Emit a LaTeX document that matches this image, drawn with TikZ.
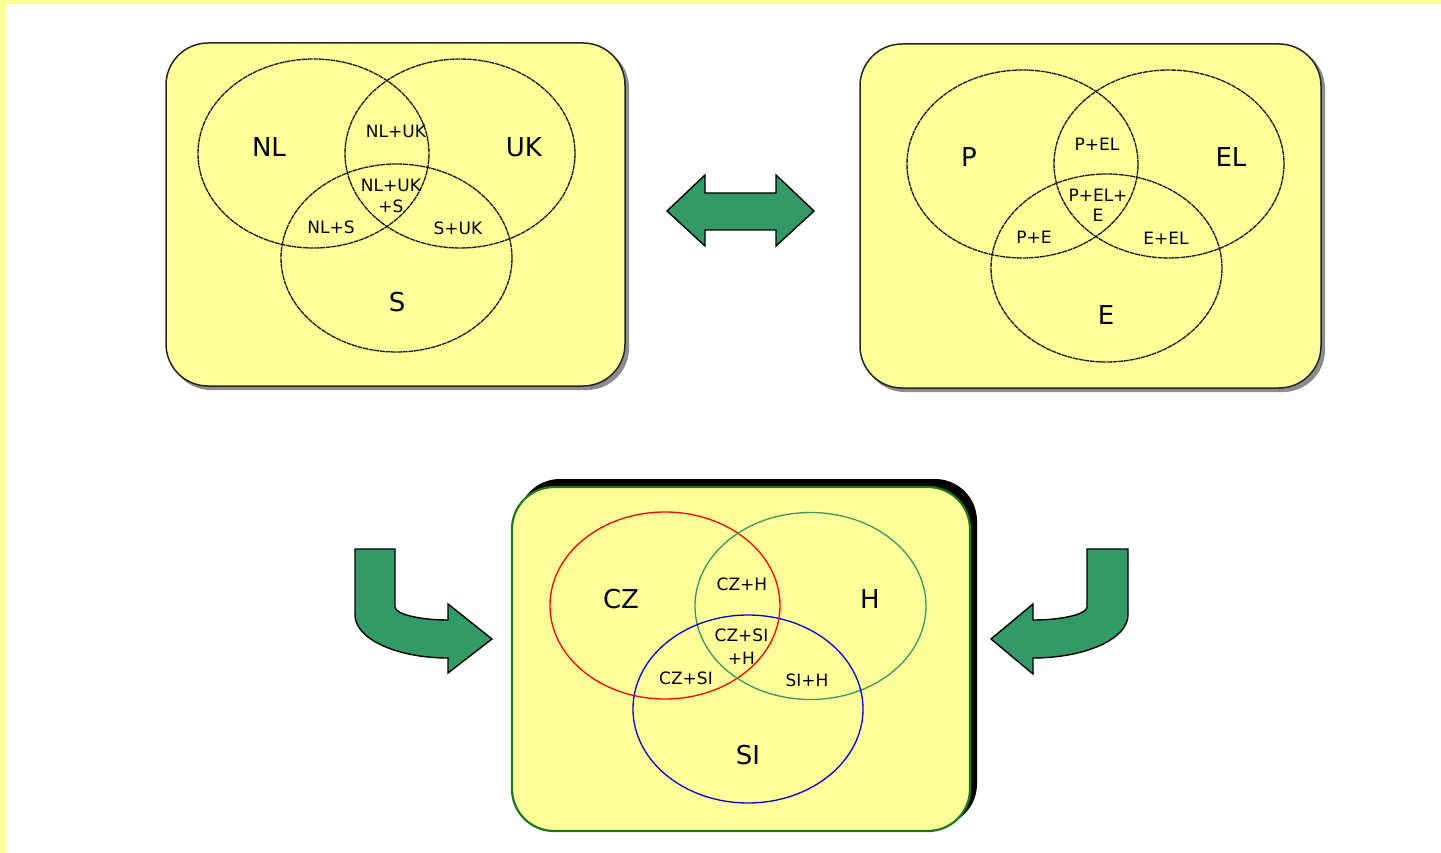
\documentclass[tikz,border=0pt]{standalone}
\usepackage{fontspec}
\setmainfont{DejaVu Sans}
\definecolor{pale}{HTML}{FFFF99}
\definecolor{arrowgreen}{HTML}{339966}
\definecolor{boxgreen}{RGB}{30,120,30}
\definecolor{hgreen}{RGB}{60,150,100}
\definecolor{vennline}{RGB}{30,30,30}
\tikzset{
  panel/.style={fill=pale, draw=black!85, line width=1.5pt, rounded corners=42pt},
  panelshadow/.style={fill=black!45, rounded corners=42pt},
  venn/.style={draw=vennline, line width=1.35pt, dash pattern=on 5pt off 0.7pt},
  big/.style={font=\fontsize{26}{30}\selectfont, inner sep=0pt},
  small/.style={font=\fontsize{17}{20}\selectfont, inner sep=0pt, align=center},
  blockarrow/.style={fill=arrowgreen, draw=black, line width=1.4pt, line join=miter}
}
\begin{document}
\begin{tikzpicture}[x=1pt,y=-1pt]
\useasboundingbox (0,0) rectangle (1441,853);
\fill[white] (0,0) rectangle (1441,853);
\fill[pale] (0,0) rectangle (1441,4);
\fill[pale] (0,0) rectangle (6,853);

% ---------- top-left panel ----------
\fill[panelshadow] (169,46) rectangle (629,390);
\draw[panel] (166,43) rectangle (625,386);
\draw[venn] (313.5,153.5) ellipse [x radius=115.5, y radius=94.5];
\draw[venn] (460,153.5) ellipse [x radius=115, y radius=94.5];
\draw[venn] (396.5,258) ellipse [x radius=115.5, y radius=94];
\node[big] (nl) at (269,147) {NL};
\node[big] (uk) at (524,147) {UK};
\node[big] (s) at (397,302) {S};
\node[small] (nluk) at (396,131) {NL+UK};
\node[small] (nluks) at (391,196) {NL+UK\\[1pt]+S};
\node[small] (nls) at (331,227) {NL+S};
\node[small] (suk) at (458,228) {S+UK};

% ---------- top-right panel ----------
\fill[panelshadow] (863,47) rectangle (1325,392);
\draw[panel] (860,44) rectangle (1321,388);
\draw[venn] (1022.5,164) ellipse [x radius=115.5, y radius=94];
\draw[venn] (1169,164) ellipse [x radius=115, y radius=94];
\draw[venn] (1106.5,268) ellipse [x radius=115.5, y radius=94];
\node[big] (p) at (969,157) {P};
\node[big] (el) at (1231,157) {EL};
\node[big] (e) at (1106,315) {E};
\node[small] (pel) at (1097,144) {P+EL};
\node[small] (pele) at (1098,205.5) {P+EL+\\[0pt]E};
\node[small] (pe) at (1034,237) {P+E};
\node[small] (eel) at (1166,238) {E+EL};

% ---------- double arrow ----------
\draw[blockarrow] (667,211) -- (705,175) -- (705,193) -- (776,193) -- (776,175)
  -- (814,211) -- (776,246) -- (776,230) -- (705,230) -- (705,246) -- cycle;

% ---------- bottom panel ----------
\fill[black, rounded corners=42pt] (518,479) rectangle (977,826);
\draw[fill=pale, draw=boxgreen, line width=2.2pt, rounded corners=42pt] (512,487) rectangle (970,831);
\draw[red, line width=1.3pt] (665,605.5) ellipse [x radius=115, y radius=93.5];
\draw[hgreen, line width=1.3pt] (810.5,606) ellipse [x radius=115.5, y radius=93.5];
\draw[blue!85!black, line width=1.3pt] (748,709) ellipse [x radius=115, y radius=94];
\node[big] (cz) at (621,599) {CZ};
\node[big] (h) at (870,599) {H};
\node[big] (si) at (748,755) {SI};
\node[small] (czh) at (742,584) {CZ+H};
\node[small] (czsih) at (741.5,647) {CZ+SI\\[3pt]+H};
\node[small] (czsi) at (686,678) {CZ+SI};
\node[small] (sih) at (807,680) {SI+H};

% ---------- bent arrows ----------
\draw[blockarrow] (355,549) -- (395,549) -- (395,607)
  .. controls (395,614) and (419,620) .. (448,620)
  -- (448,604) -- (492,639) -- (448,673) -- (448,658)
  .. controls (397,658) and (355,639) .. (355,615) -- cycle;
\draw[blockarrow] (1128,549) -- (1087,549) -- (1087,607)
  .. controls (1087,614) and (1063,620) .. (1033,620)
  -- (1033,604) -- (991,639) -- (1033,674) -- (1033,658)
  .. controls (1085,658) and (1128,639) .. (1128,615) -- cycle;
\end{tikzpicture}
\end{document}
